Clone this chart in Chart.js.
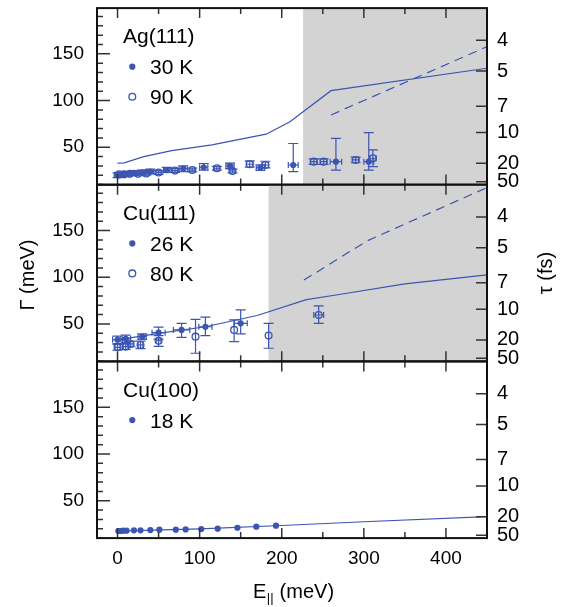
<!DOCTYPE html>
<html>
<head>
<meta charset="utf-8">
<script src="https://cdn.jsdelivr.net/npm/chart.js@4.4.1/dist/chart.umd.min.js"></script>
<style>
  html, body { margin: 0; padding: 0; background: #fff; }
  #wrap { position: relative; width: 564px; height: 607px; }
  #wrap canvas { position: absolute; left: 0; top: 0; }
</style>
</head>
<body>
<div id="wrap">
  <canvas id="agChart" width="564" height="607"></canvas>
  <canvas id="cu111Chart" width="564" height="607"></canvas>
  <canvas id="cu100Chart" width="564" height="607"></canvas>
</div>
<script>
const FONT = "'Liberation Sans', Arial, sans-serif";
const BLUE = '#3b55b2';
const HBAR = 658.2; // meV fs, tau = hbar / Gamma

const xTicks = [0, 100, 200, 300, 400];
const gammaTicks = [50, 100, 150];
const tauTicks = [4, 5, 7, 10, 20, 50];
const panelNames = ['Ag(111)', 'Cu(111)', 'Cu(100)'];

// Ag(111)
const agE30 = [0, 5, 10, 20, 30, 40, 60, 80, 105, 137, 174, 214, 266, 306];
const agG30 = [20, 20.5, 21.5, 22.5, 23, 24, 25.5, 27, 28.6, 30, 28.2, 31, 34.6, 34.6];
const agLo30 = [2.5, 2.5, 2.5, 2.5, 2.5, 2.5, 2.5, 3, 3, 3, 3, 7, 9, 9];
const agHi30 = [2.5, 2.5, 2.5, 2.5, 2.5, 2.5, 3, 3, 4, 3, 3, 23, 25, 31];
const agX30 = [4, 4, 4, 4, 4, 4, 4, 5, 5, 5, 5, 6, 7, 6];
const agE90 = [2, 8, 15, 25, 35, 50, 70, 91, 121, 140, 161, 180, 239, 251, 290, 311];
const agG90 = [21, 21, 21.5, 21.5, 22, 23, 25, 25.6, 27.5, 24.6, 31.8, 31, 34.6, 34.6, 36.4, 38.2];
const agLo90 = [2, 2, 2, 2, 2, 2, 2, 2, 2, 2, 3, 3, 3, 3, 3, 9];
const agHi90 = [2, 2, 2, 2, 2, 2, 2, 2, 2, 2, 3.5, 4, 3, 3, 3, 9];
const agX90 = [3, 3, 3, 3, 3, 3, 3, 3, 3, 3, 4, 4, 4, 4, 4, 4];
const agLineE = [0, 8, 32, 66, 115, 181, 210, 260, 450];
const agLineG = [33, 33.2, 40, 46.4, 52.5, 64, 77.4, 110.6, 134.6];
const agDashE = [260, 450];
const agDashG = [84.6, 157.7];
const agShade = 226;

// Cu(111)
const cuE26 = [0, 10, 30, 50, 78, 107, 150];
const cuG26 = [33, 34, 36.4, 40.7, 43.6, 47, 50.7];
const cuLo26 = [4, 4, 3, 7, 8, 9.5, 11.4];
const cuHi26 = [4, 4, 3, 6, 7, 10.2, 14.3];
const cuX26 = [6, 6, 5, 8, 10, 8, 8];
const cuE80 = [0, 10, 16, 28, 50, 95, 142, 184, 245];
const cuG80 = [25, 25.7, 28.6, 27.5, 32, 36.4, 43.6, 37.5, 59.6];
const cuLo80 = [3, 3, 3, 4, 6, 17.8, 12.6, 13.5, 8.9];
const cuHi80 = [3, 3, 3, 4, 5.5, 18.6, 10.7, 13.2, 9.7];
const cuX80 = [3, 3, 3, 3, 3, 0, 0, 0, 6];
const cuLineE = [0, 50, 107, 170, 230, 270, 350, 450];
const cuLineG = [33, 40, 47, 59, 76, 81.5, 93, 102.5];
const cuDashE = [227, 304, 450];
const cuDashG = [97, 139, 196];
const cuShade = 184;

// Cu(100)
const cu100E = [1, 4, 7, 11, 20, 28, 40, 51, 71, 83, 102, 122, 146, 169, 193];
const cu100G = [17.6, 17.6, 17.9, 17.9, 18.3, 18.3, 18.6, 19.0, 19.0, 19.3, 19.7, 20.1, 21.1, 22.2, 23.3];
const cu100LineE = [0, 100, 200, 300, 450];
const cu100LineG = [17.5, 19.8, 23.5, 27.5, 33];

const X_MIN = -25, X_MAX = 450;
const G_MIN = 10, G_MAX = 199;

const pts = (xs, ys) => xs.map((x, i) => ({ x: x, y: ys[i] }));

function pointSet(label, xs, ys, lo, hi, ex, open) {
  return {
    label: label, data: pts(xs, ys), showLine: false,
    pointRadius: open ? 3.4 : 3.1,
    pointBorderWidth: open ? 1.3 : 0,
    pointBorderColor: BLUE,
    pointBackgroundColor: open ? 'rgba(0,0,0,0)' : BLUE,
    errLo: lo, errHi: hi, errX: ex, marker: open ? 'open' : 'filled'
  };
}

function lineSet(xs, ys, dashed) {
  return {
    data: pts(xs, ys), showLine: true, pointRadius: 0,
    borderColor: BLUE, borderWidth: 1.2, borderDash: dashed ? [9, 6] : [],
    tension: 0
  };
}

const panelPlugin = {
  id: 'panel',
  beforeDraw(chart, args, opts) {
    const { ctx, chartArea: a } = chart;
    if (opts.shadeFrom != null) {
      const x0 = chart.scales.x.getPixelForValue(opts.shadeFrom);
      ctx.save();
      ctx.fillStyle = '#d3d3d3';
      ctx.fillRect(x0, a.top, a.right - x0, a.bottom - a.top);
      ctx.restore();
    }
  },
  beforeDatasetsDraw(chart) {
    const { ctx, scales: { x, y } } = chart;
    ctx.save();
    ctx.strokeStyle = BLUE;
    ctx.lineWidth = 1.2;
    chart.data.datasets.forEach(ds => {
      if (!ds.errHi) return;
      ds.data.forEach((p, i) => {
        const px = x.getPixelForValue(p.x), py = y.getPixelForValue(p.y);
        const top = y.getPixelForValue(p.y + ds.errHi[i]);
        const bot = y.getPixelForValue(p.y - ds.errLo[i]);
        ctx.beginPath();
        ctx.moveTo(px, top); ctx.lineTo(px, bot);
        ctx.moveTo(px - 5, top); ctx.lineTo(px + 5, top);
        ctx.moveTo(px - 5, bot); ctx.lineTo(px + 5, bot);
        if (ds.errX[i] > 0) {
          const l = x.getPixelForValue(p.x - ds.errX[i]);
          const r = x.getPixelForValue(p.x + ds.errX[i]);
          ctx.moveTo(l, py); ctx.lineTo(r, py);
          ctx.moveTo(l, py - 3); ctx.lineTo(l, py + 3);
          ctx.moveTo(r, py - 3); ctx.lineTo(r, py + 3);
        }
        ctx.stroke();
      });
    });
    ctx.restore();
  },
  afterDraw(chart, args, opts) {
    const { ctx, chartArea: a, scales: { x, y } } = chart;
    ctx.save();
    // inward ticks
    ctx.strokeStyle = '#333';
    ctx.lineWidth = 1.5;
    ctx.beginPath();
    for (let g = 10; g <= 190; g += 10) {
      const py = y.getPixelForValue(g);
      const len = g % 50 === 0 ? 13 : 6;
      ctx.moveTo(a.left, py); ctx.lineTo(a.left + len, py);
    }
    tauTicks.forEach(t => {
      const py = y.getPixelForValue(HBAR / t);
      ctx.moveTo(a.right, py); ctx.lineTo(a.right - 11, py);
    });
    for (let e = 0; e <= 450; e += 50) {
      const px = x.getPixelForValue(e);
      const len = e % 100 === 0 ? 10 : 6;
      ctx.moveTo(px, a.top); ctx.lineTo(px, a.top + len);
      ctx.moveTo(px, a.bottom); ctx.lineTo(px, a.bottom - len);
    }
    ctx.stroke();
    // frame
    ctx.strokeStyle = '#111';
    ctx.lineWidth = 2;
    ctx.strokeRect(a.left, a.top, a.right - a.left, a.bottom - a.top);

    // legend
    ctx.fillStyle = '#000';
    ctx.font = '21px ' + FONT;
    ctx.textBaseline = 'alphabetic';
    ctx.textAlign = 'left';
    ctx.fillText(opts.name, a.left + 26, a.top + 35);
    let row = 0;
    chart.data.datasets.forEach(ds => {
      if (!ds.marker) return;
      const my = a.top + 58.6 + row * 30;
      const mx = a.left + 35.3;
      ctx.beginPath();
      ctx.arc(mx, my, ds.marker === 'open' ? 3.4 : 3.1, 0, Math.PI * 2);
      if (ds.marker === 'open') {
        ctx.strokeStyle = BLUE; ctx.lineWidth = 1.3; ctx.stroke();
      } else {
        ctx.fillStyle = BLUE; ctx.fill();
      }
      ctx.fillStyle = '#000';
      ctx.fillText(ds.label, a.left + 53, my + 7.5);
      row++;
    });

    if (opts.titles) {
      ctx.font = '20px ' + FONT;
      const wE = ctx.measureText('E').width;
      const rest = ' (meV)';
      const wRest = ctx.measureText(rest).width;
      ctx.font = '13px ' + FONT;
      const wSub = ctx.measureText('||').width;
      const x0 = 293 - (wE + wSub + wRest) / 2;
      const base = 598;
      ctx.font = '20px ' + FONT;
      ctx.fillText('E', x0, base);
      ctx.fillText(rest, x0 + wE + wSub + 1, base);
      ctx.font = '13px ' + FONT;
      ctx.fillText('||', x0 + wE + 0.5, base + 4);

      ctx.font = '20px ' + FONT;
      ctx.textAlign = 'center';
      ctx.textBaseline = 'middle';
      ctx.save();
      ctx.translate(28, 275);
      ctx.rotate(-Math.PI / 2);
      ctx.fillText('Γ (meV)', 0, 0);
      ctx.restore();
      ctx.save();
      ctx.translate(546, 273);
      ctx.rotate(-Math.PI / 2);
      ctx.fillText('τ (fs)', 0, 0);
      ctx.restore();
    }
    ctx.restore();
  }
};

function makePanel(canvasId, name, datasets, shadeFrom, top, bottom, isLast) {
  const tickFont = { size: 19, family: FONT };
  return new Chart(document.getElementById(canvasId).getContext('2d'), {
    type: 'scatter',
    data: { datasets: datasets },
    plugins: [panelPlugin],
    options: {
      responsive: false,
      animation: false,
      layout: { padding: { top: top, bottom: isLast ? 0 : 607 - bottom, left: 0, right: 0 } },
      plugins: {
        legend: { display: false },
        tooltip: { enabled: false },
        panel: { name: name, shadeFrom: shadeFrom, titles: isLast }
      },
      scales: {
        x: {
          type: 'linear', min: X_MIN, max: X_MAX, display: isLast,
          afterBuildTicks: s => { s.ticks = xTicks.map(v => ({ value: v })); },
          afterFit: s => { s.height = isLast ? 607 - bottom : 0; s.paddingLeft = 0; s.paddingRight = 0; },
          grid: { display: false, drawTicks: false },
          border: { display: false },
          ticks: { font: tickFont, color: '#000', padding: 9, maxRotation: 0, autoSkip: false }
        },
        y: {
          type: 'linear', position: 'left', min: G_MIN, max: G_MAX,
          afterBuildTicks: s => { s.ticks = gammaTicks.map(v => ({ value: v })); },
          afterFit: s => { s.width = 97; s.paddingTop = 0; s.paddingBottom = 0; },
          grid: { display: false, drawTicks: false },
          border: { display: false },
          ticks: { font: tickFont, color: '#000', padding: 13, autoSkip: false }
        },
        tau: {
          type: 'linear', position: 'right', min: G_MIN, max: G_MAX,
          afterBuildTicks: s => { s.ticks = tauTicks.map(t => ({ value: HBAR / t })); },
          afterFit: s => { s.width = 77; s.paddingTop = 0; s.paddingBottom = 0; },
          grid: { display: false, drawTicks: false },
          border: { display: false },
          ticks: {
            font: { size: 20, family: FONT }, color: '#000', padding: 10, autoSkip: false,
            callback: v => String(Math.round(HBAR / v))
          }
        }
      }
    }
  });
}

makePanel('agChart', panelNames[0], [
  lineSet(agLineE, agLineG, false),
  lineSet(agDashE, agDashG, true),
  pointSet('30 K', agE30, agG30, agLo30, agHi30, agX30, false),
  pointSet('90 K', agE90, agG90, agLo90, agHi90, agX90, true)
], agShade, 8.1, 184.6, false);

makePanel('cu111Chart', panelNames[1], [
  lineSet(cuLineE, cuLineG, false),
  lineSet(cuDashE, cuDashG, true),
  pointSet('26 K', cuE26, cuG26, cuLo26, cuHi26, cuX26, false),
  pointSet('80 K', cuE80, cuG80, cuLo80, cuHi80, cuX80, true)
], cuShade, 184.8, 361.3, false);

makePanel('cu100Chart', panelNames[2], [
  lineSet(cu100LineE, cu100LineG, false),
  pointSet('18 K', cu100E, cu100G, null, null, null, false)
], null, 361.5, 538.1, true);
</script>
</body>
</html>
